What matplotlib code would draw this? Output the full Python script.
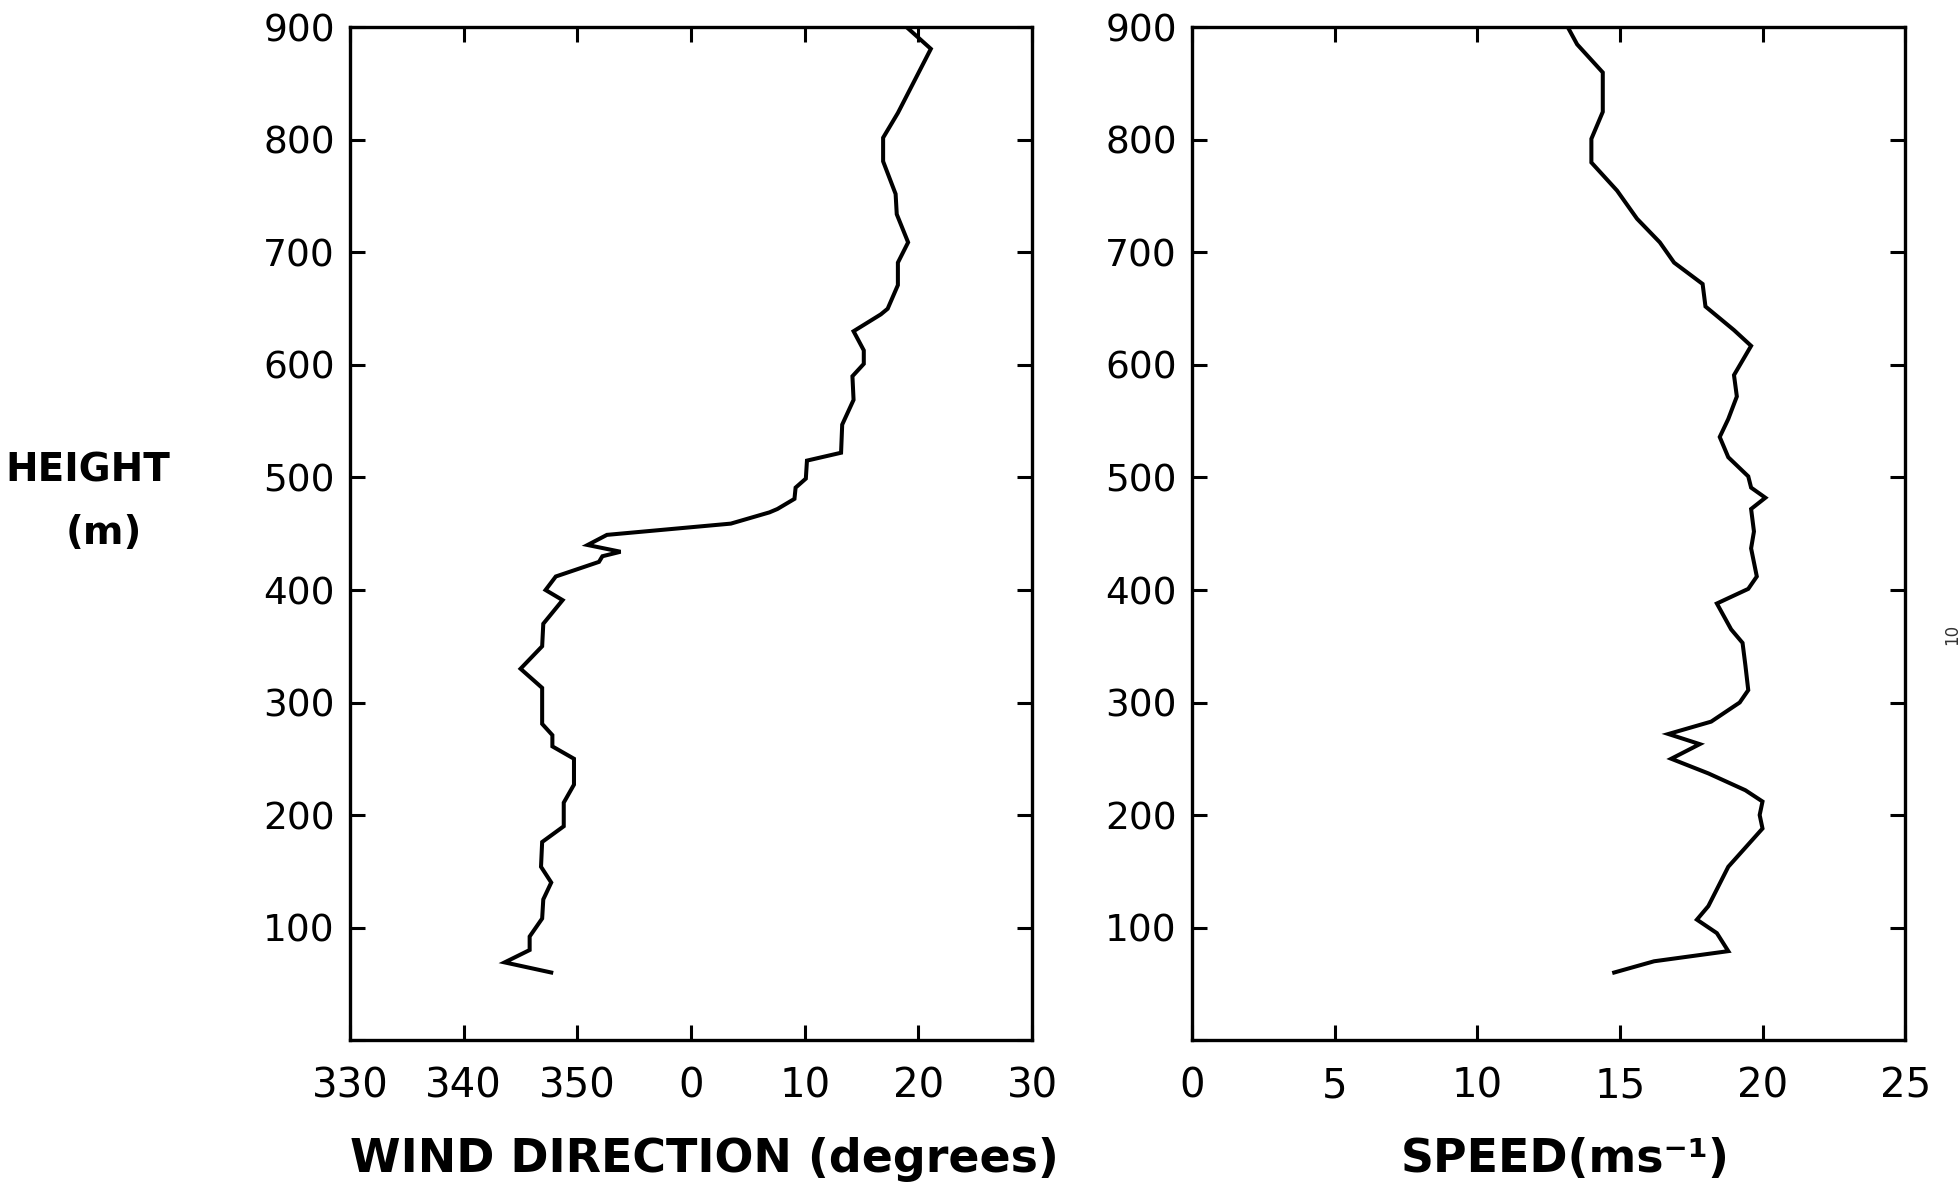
import matplotlib
matplotlib.use("Agg")
import matplotlib.pyplot as plt
import numpy as np


# wind direction profile (compass degrees) against height (m)
DIR_HEIGHT = [900, 881, 824, 802, 781, 752, 734, 709, 691, 671, 650, 645, 630, 613,
              601, 590, 569, 547, 522, 515, 499, 491, 481, 472, 469, 459, 449, 440,
              434, 430, 425, 412, 400, 391, 370, 350, 330, 313, 281, 271, 261, 250,
              227, 211, 190, 176, 154, 140, 125, 108, 92, 80, 69, 60]
DIRECTION = [19.0, 21.1, 18.2, 16.9, 16.9, 18.0, 18.1, 19.1, 18.2, 18.2, 17.3, 16.7,
             14.3, 15.2, 15.2, 14.2, 14.3, 13.3, 13.2, 10.2, 10.1, 9.2, 9.1, 7.6, 6.9,
             3.5, 352.6, 350.9, 353.8, 352.2, 351.9, 348.1, 347.2, 348.7, 347.0,
             346.9, 345.0, 346.9, 346.9, 347.8, 347.8, 349.7, 349.7, 348.8, 348.8,
             346.9, 346.8, 347.7, 347.0, 346.9, 345.8, 345.8, 343.6, 347.7]

# wind speed profile (m/s) against height (m)
SPD_HEIGHT = [899, 885, 860, 825, 801, 780, 755, 730, 709, 691, 672, 652, 631, 617,
              591, 572, 552, 536, 518, 501, 491, 482, 472, 452, 437, 412, 401, 388,
              365, 353, 333, 311, 300, 283, 272, 263, 250, 237, 222, 212, 200, 188,
              154, 119, 107, 95, 79, 70, 60]
SPEED = [13.2, 13.5, 14.4, 14.4, 14.0, 14.0, 14.9, 15.6, 16.4, 16.9, 17.9, 18.0,
         19.0, 19.6, 19.0, 19.1, 18.8, 18.5, 18.8, 19.5, 19.6, 20.1, 19.6, 19.7,
         19.6, 19.8, 19.5, 18.4, 18.9, 19.3, 19.4, 19.5, 19.2, 18.2, 16.7, 17.8,
         16.8, 18.1, 19.4, 20.0, 19.9, 20.0, 18.8, 18.1, 17.7, 18.4, 18.8, 16.2, 14.8]

HEIGHT_TICKS = [0, 100, 200, 300, 400, 500, 600, 700, 800, 900]
HEIGHT_LABELS = ["", "100", "200", "300", "400", "500", "600", "700", "800", "900"]
DIR_TICKS = [-30, -20, -10, 0, 10, 20, 30]
DIR_LABELS = ["330", "340", "350", "0", "10", "20", "30"]
SPD_TICKS = [0, 5, 10, 15, 20, 25]
SPD_LABELS = ["0", "5", "10", "15", "20", "25"]

LW = 2.4


def style_axes(ax):
    for s in ax.spines.values():
        s.set_linewidth(LW)
    ax.tick_params(axis="both", which="both", direction="in", length=11,
                   width=2.2, top=True, right=True, colors="black")
    ax.tick_params(axis="y", pad=11, labelsize=27)
    ax.tick_params(axis="x", pad=19, labelsize=29)
    ax.set_ylim(0, 900)
    ax.set_yticks(HEIGHT_TICKS)
    ax.set_yticklabels(HEIGHT_LABELS)


def main():
    fig = plt.figure(figsize=(19.59, 11.84), dpi=100)

    ax1 = fig.add_axes([0.1787, 0.1216, 0.3481, 0.8552])
    ax2 = fig.add_axes([0.6085, 0.1216, 0.3640, 0.8552])

    # directions are plotted relative to north so the curve stays continuous
    rel_dir = (np.array(DIRECTION) + 180.0) % 360.0 - 180.0
    ax1.plot(rel_dir, DIR_HEIGHT, color="black", lw=2.9, solid_joinstyle="miter")
    ax1.set_xlim(-30, 30)
    ax1.set_xticks(DIR_TICKS)
    ax1.set_xticklabels(DIR_LABELS)
    style_axes(ax1)
    ax1.set_xlabel("WIND DIRECTION (degrees)", fontsize=33, fontweight="bold",
                   va="baseline")
    ax1.xaxis.set_label_coords(0.519, -0.1304)

    ax2.plot(SPEED, SPD_HEIGHT, color="black", lw=2.9, solid_joinstyle="miter")
    ax2.set_xlim(0, 25)
    ax2.set_xticks(SPD_TICKS)
    ax2.set_xticklabels(SPD_LABELS)
    style_axes(ax2)
    ax2.set_xlabel("SPEED(ms⁻¹)", fontsize=33, fontweight="bold", va="baseline")
    ax2.xaxis.set_label_coords(0.524, -0.1304)

    fig.text(88 / 1959, 1 - 471 / 1184, "HEIGHT", fontsize=28, fontweight="bold",
             ha="center", va="center")
    fig.text(104 / 1959, 1 - 533 / 1184, "(m)", fontsize=28, fontweight="bold",
             ha="center", va="center")

    # small page mark on the right margin
    fig.text(1952 / 1959, 1 - 634 / 1184, "10", fontsize=12, rotation=90,
             ha="center", va="center", color="#333333")

    fig.savefig("out.png", dpi=100, facecolor="white")
    plt.close(fig)


if __name__ == "__main__":
    main()
